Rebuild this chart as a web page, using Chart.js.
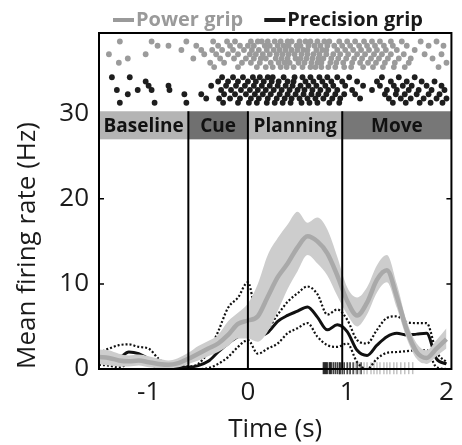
<!DOCTYPE html>
<html>
<head>
<meta charset="utf-8">
<script src="https://cdn.jsdelivr.net/npm/chart.js@4.4.1/dist/chart.umd.min.js"></script>
<style>
  html, body { margin: 0; padding: 0; background: #fff; }
  #chart { display: block; }
</style>
</head>
<body>
<canvas id="chart" width="462" height="445"></canvas>
<script>
// time base (s) for the firing-rate traces
const times = [-1.5, -1.4, -1.3, -1.2, -1.1, -1.0, -0.9, -0.8, -0.7, -0.6,
  -0.5, -0.4, -0.3, -0.2, -0.1, 0, 0.1, 0.2, 0.3, 0.4,
  0.5, 0.6, 0.7, 0.8, 0.9, 1.0, 1.1, 1.2, 1.3, 1.4,
  1.5, 1.6, 1.7, 1.8, 1.9, 2.0];

// power grip: mean and shaded band
const powerMean = [1.4, 1.3, 1.0, 0.9, 1.0, 0.8, 0.6, 0.5, 0.7, 1.2,
  1.8, 2.4, 3.0, 4.0, 5.3, 5.7, 6.2, 8.5, 10.8, 12.4,
  14.3, 15.6, 15.0, 13.6, 11.0, 8.0, 6.3, 7.8, 10.5, 11.6,
  8.5, 4.6, 2.0, 1.3, 2.4, 3.5];
const powerUpper = [2.3, 2.2, 1.8, 1.6, 1.7, 1.5, 1.2, 1.0, 1.3, 1.9,
  2.7, 3.3, 4.0, 5.6, 6.6, 7.7, 10.0, 13.4, 15.4, 17.0,
  18.5, 17.2, 17.8, 16.4, 13.2, 9.6, 8.4, 9.6, 12.2, 13.4,
  10.0, 5.6, 3.0, 2.2, 3.4, 4.8];
const powerLower = [0.6, 0.4, 0.3, 0.3, 0.4, 0.2, 0.1, 0.1, 0.2, 0.6,
  1.0, 1.5, 2.0, 2.7, 3.6, 3.6, 3.2, 4.4, 6.8, 9.4,
  11.5, 13.4, 12.4, 11.0, 8.6, 6.4, 5.0, 6.4, 9.0, 10.2,
  7.2, 3.6, 1.2, 0.6, 1.5, 2.4];

// precision grip: mean and dotted bounds
const precMean = [1.3, 1.2, 1.3, 2.0, 1.8, 1.2, 0.7, 0.3, 0.2, 0.2,
  0.4, 0.9, 2.0, 3.0, 3.8, 4.2, 3.9, 4.3, 5.6, 6.3,
  6.8, 7.3, 6.1, 4.6, 5.2, 4.4, 2.2, 1.6, 2.8, 3.8,
  4.2, 4.0, 4.1, 4.2, 1.2, 0.6];
const precUpper = [1.9, 2.4, 2.8, 2.9, 2.6, 2.4, 1.2, 0.4, 0.3, 0.3,
  0.6, 2.0, 4.4, 7.2, 8.4, 10.2, 5.4, 5.0, 6.4, 7.9,
  8.9, 9.7, 8.8, 6.4, 7.0, 5.8, 3.4, 3.0, 4.6, 6.0,
  6.2, 5.5, 5.4, 5.4, 2.0, 0.8];
const precLower = [0.5, 0.4, 0.2, 0.6, 0.8, 0.5, 0.2, 0.0, 0.0, 0.0,
  0.0, 0.1, 0.6, 1.4, 2.6, 3.4, 1.8, 2.4, 3.0, 4.2,
  4.8, 5.4, 3.8, 2.8, 2.6, 3.0, 0.8, 0.0, 1.2, 1.9,
  2.0, 2.1, 2.2, 2.2, 0.2, 0.0];

// spike rasters: one list of spike times per trial
const powerTrialY = [38.5, 38.0, 37.5, 37.0, 36.5, 36.0, 35.5];
const powerSpikes = [
  [-1.29, -0.97, -0.62, -0.35, -0.21, -0.13, 0.03, 0.1, 0.14, 0.2, 0.27, 0.33, 0.4, 0.44, 0.52, 0.58, 0.63, 0.7, 0.77, 0.82, 0.92, 1.0, 1.08, 1.17, 1.25, 1.33, 1.44, 1.55, 1.74, 1.9],
  [-0.91, -0.8, -0.52, -0.3, -0.18, -0.08, 0.0, 0.06, 0.17, 0.22, 0.3, 0.36, 0.41, 0.49, 0.53, 0.61, 0.67, 0.73, 0.8, 0.87, 0.95, 1.03, 1.12, 1.2, 1.28, 1.37, 1.46, 1.6, 1.82, 1.97],
  [-0.67, -0.47, -0.36, -0.26, -0.15, -0.04, 0.04, 0.11, 0.19, 0.26, 0.32, 0.38, 0.44, 0.5, 0.56, 0.6, 0.69, 0.75, 0.79, 0.9, 0.98, 1.06, 1.14, 1.22, 1.3, 1.39, 1.5, 1.68],
  [-1.4, -1.03, -0.44, -0.32, -0.2, -0.1, 0.02, 0.08, 0.15, 0.22, 0.29, 0.35, 0.41, 0.47, 0.54, 0.6, 0.66, 0.72, 0.79, 0.86, 0.93, 1.01, 1.1, 1.18, 1.27, 1.35, 1.44, 1.57, 1.78, 1.95],
  [-1.21, -0.55, -0.28, -0.14, -0.02, 0.06, 0.13, 0.18, 0.28, 0.34, 0.4, 0.48, 0.53, 0.59, 0.65, 0.71, 0.76, 0.84, 0.91, 0.99, 1.07, 1.15, 1.24, 1.32, 1.41, 1.52, 1.64, 1.86],
  [-1.3, -0.38, -0.24, -0.06, 0.03, 0.12, 0.23, 0.31, 0.37, 0.42, 0.51, 0.57, 0.64, 0.7, 0.74, 0.83, 0.89, 0.96, 1.05, 1.13, 1.21, 1.29, 1.38, 1.48, 1.62, 2.0],
  [-0.34, -0.1, 0.09, 0.18, 0.25, 0.33, 0.39, 0.46, 0.55, 0.63, 0.68, 0.74, 0.81, 0.88, 0.97, 1.04, 1.16, 1.26, 1.36, 1.47, 1.58, 1.92]
];
const precTrialY = [34.3, 33.8, 33.3, 32.8, 32.3, 31.8, 31.3];
const precSpikes = [
  [-1.37, -1.19, -0.26, -0.15, -0.05, 0.05, 0.12, 0.2, 0.25, 0.36, 0.47, 0.55, 0.63, 0.72, 0.8, 0.9, 1.02, 1.35, 1.52, 1.68],
  [-1.03, -0.3, -0.2, -0.1, 0.0, 0.08, 0.16, 0.24, 0.31, 0.4, 0.46, 0.58, 0.66, 0.75, 0.84, 0.95, 1.1, 1.3, 1.44, 1.6, 1.75, 1.88],
  [-1.0, -0.8, -0.37, -0.22, -0.12, -0.03, 0.06, 0.14, 0.22, 0.3, 0.38, 0.45, 0.53, 0.61, 0.69, 0.78, 0.86, 0.98, 1.16, 1.33, 1.47, 1.56, 1.65, 1.8, 1.95],
  [-1.32, -1.11, -0.97, -0.79, -0.27, -0.17, -0.07, 0.02, 0.1, 0.18, 0.26, 0.34, 0.42, 0.5, 0.57, 0.65, 0.73, 0.81, 0.9, 1.05, 1.25, 1.4, 1.5, 1.62, 1.72, 1.85, 1.98],
  [-1.21, -0.64, -0.47, -0.24, -0.13, -0.02, 0.07, 0.15, 0.23, 0.32, 0.4, 0.48, 0.56, 0.64, 0.71, 0.79, 0.88, 0.97, 1.08, 1.38, 1.49, 1.58, 1.7, 1.82, 1.93],
  [-0.42, -0.29, -0.18, -0.08, 0.03, 0.11, 0.2, 0.29, 0.37, 0.44, 0.52, 0.6, 0.68, 0.76, 0.85, 0.93, 1.13, 1.42, 1.54, 1.64, 1.77, 1.9, 2.0],
  [-1.29, -0.94, -0.62, -0.25, -0.1, 0.01, 0.09, 0.19, 0.27, 0.35, 0.43, 0.54, 0.62, 0.7, 0.82, 0.92, 1.46, 1.59, 1.73, 1.84, 1.96]
];

// movement onset times (tick marks on the time axis)
const onsetsPrecision = [0.76, 0.77, 0.78, 0.79, 0.8, 0.82, 0.83, 0.84, 0.86, 0.88, 0.9, 0.92, 0.93, 0.95, 0.97, 1.0, 1.03, 1.06, 1.1, 1.14];
const onsetsPower = [1.02, 1.08, 1.12, 1.17, 1.2, 1.24, 1.27, 1.3, 1.33, 1.37, 1.4, 1.43, 1.47, 1.5, 1.54, 1.58, 1.62, 1.66];

// task phases
const phaseNames = ["Baseline", "Cue", "Planning", "Move"];
const phaseEdges = [-1.5, -0.6, 0, 0.95, 2.05];
const phaseColors = ["#b4b4b4", "#707070", "#b9b9b9", "#777777"];

const xTicks = [-1, 0, 1, 2];
const yTicks = [0, 10, 20, 30];
const legendLabels = ["Power grip", "Precision grip"];
const legendColors = ["#9a9a9a", "#1a1a1a"];

const toPoints = (values) => values.map((v, i) => ({ x: times[i], y: v }));
const rasterPoints = (rows, ys) => {
  const pts = [];
  rows.forEach((row, i) => row.forEach((t) => pts.push({ x: t, y: ys[i] })));
  return pts;
};

Chart.defaults.font.family = "'Open Sans', sans-serif";
Chart.defaults.color = "#1a1a1a";

const phasePlugin = {
  id: "phases",
  afterDatasetsDraw(chart) {
    const { ctx, chartArea, scales: { x, y } } = chart;
    const top = y.getPixelForValue(30.3);
    const bottom = y.getPixelForValue(27);
    ctx.save();
    ctx.font = "bold 19px 'Open Sans'";
    ctx.textAlign = "center";
    ctx.textBaseline = "middle";
    for (let i = 0; i < phaseNames.length; i++) {
      const left = x.getPixelForValue(phaseEdges[i]);
      const right = x.getPixelForValue(phaseEdges[i + 1]);
      ctx.fillStyle = phaseColors[i];
      ctx.fillRect(left, top, right - left, bottom - top);
      ctx.fillStyle = "#111";
      ctx.fillText(phaseNames[i], (left + right) / 2, (top + bottom) / 2 + 1);
    }
    // event lines
    ctx.strokeStyle = "#000";
    ctx.lineWidth = 2;
    const y0 = y.getPixelForValue(0);
    for (const t of phaseEdges.slice(1, -1)) {
      const px = x.getPixelForValue(t);
      ctx.beginPath();
      ctx.moveTo(px, top);
      ctx.lineTo(px, y0);
      ctx.stroke();
    }
    // frame and small inward ticks
    ctx.strokeRect(chartArea.left, chartArea.top, chartArea.right - chartArea.left, chartArea.bottom - chartArea.top);
    ctx.lineWidth = 1.5;
    for (const v of [10, 20]) {
      const py = y.getPixelForValue(v);
      ctx.beginPath();
      ctx.moveTo(chartArea.left, py);
      ctx.lineTo(chartArea.left + 5, py);
      ctx.moveTo(chartArea.right, py);
      ctx.lineTo(chartArea.right - 5, py);
      ctx.stroke();
    }
    ctx.restore();
  },
};

const legendPlugin = {
  id: "gripLegend",
  afterDraw(chart) {
    const ctx = chart.ctx;
    ctx.save();
    ctx.font = "bold 20px 'Open Sans'";
    ctx.textBaseline = "middle";
    const dash = 21, gap = 2, between = 21;
    const widths = legendLabels.map((l) => ctx.measureText(l).width);
    let total = between * (legendLabels.length - 1);
    widths.forEach((w) => (total += dash + gap + w));
    let x = 268 - total / 2;
    const y = 20;
    legendLabels.forEach((label, i) => {
      ctx.strokeStyle = legendColors[i];
      ctx.lineWidth = 4;
      ctx.beginPath();
      ctx.moveTo(x, y);
      ctx.lineTo(x + dash, y);
      ctx.stroke();
      ctx.fillStyle = legendColors[i];
      ctx.fillText(label, x + dash + gap, y);
      x += dash + gap + widths[i] + between;
    });
    ctx.restore();
  },
};

const lineBase = { pointRadius: 0, cubicInterpolationMode: "monotone", fill: false };

new Chart(document.getElementById("chart"), {
  type: "line",
  data: {
    datasets: [
      { ...lineBase, label: "Power grip", data: toPoints(powerMean), borderColor: "#a9a9a9", borderWidth: 4.5 },
      { ...lineBase, label: "power upper", data: toPoints(powerUpper), borderWidth: 0, borderColor: "rgba(0,0,0,0)", backgroundColor: "#cdcdcd", fill: "+1" },
      { ...lineBase, label: "power lower", data: toPoints(powerLower), borderWidth: 0, borderColor: "rgba(0,0,0,0)" },
      { ...lineBase, label: "Precision grip", data: toPoints(precMean), borderColor: "#111", borderWidth: 3 },
      { ...lineBase, label: "precision upper", data: toPoints(precUpper), borderColor: "#111", borderWidth: 2.2, borderDash: [2, 2] },
      { ...lineBase, label: "precision lower", data: toPoints(precLower), borderColor: "#111", borderWidth: 2.2, borderDash: [2, 2] },
      { label: "power raster", data: rasterPoints(powerSpikes, powerTrialY), showLine: false, pointRadius: 2.9, pointBorderWidth: 0, pointBackgroundColor: "#9b9b9b" },
      { label: "precision raster", data: rasterPoints(precSpikes, precTrialY), showLine: false, pointRadius: 2.9, pointBorderWidth: 0, pointBackgroundColor: "#1e1e1e" },
      { label: "onset precision", data: onsetsPrecision.map((t) => ({ x: t, y: 0.1 })), showLine: false, clip: false, pointStyle: "line", rotation: 90, pointRadius: 6, pointBorderWidth: 1.5, pointBorderColor: "rgba(0,0,0,0.75)" },
      { label: "onset power", data: onsetsPower.map((t) => ({ x: t, y: 0.1 })), showLine: false, clip: false, pointStyle: "line", rotation: 90, pointRadius: 6, pointBorderWidth: 1.5, pointBorderColor: "rgba(120,120,120,0.45)" },
    ],
  },
  options: {
    responsive: false,
    animation: false,
    devicePixelRatio: 1,
    events: [],
    layout: { padding: { top: 33, right: 1, left: 0, bottom: 0 } },
    plugins: { legend: { display: false }, tooltip: { enabled: false } },
    scales: {
      x: {
        type: "linear",
        min: -1.5,
        max: 2.05,
        grid: { display: false, drawTicks: false },
        border: { display: false },
        afterBuildTicks: (s) => { s.ticks = xTicks.map((v) => ({ value: v })); },
        afterFit: (s) => { s.height = 76; },
        ticks: { font: { size: 26 }, padding: 8, maxRotation: 0 },
        title: { display: true, text: "Time (s)", font: { size: 26 }, padding: 0 },
      },
      y: {
        min: 0,
        max: 39.5,
        grid: { display: false, drawTicks: false },
        border: { display: false },
        afterBuildTicks: (s) => { s.ticks = yTicks.map((v) => ({ value: v })); },
        afterFit: (s) => { s.width = 99; },
        ticks: { font: { size: 26 }, padding: 10 },
        title: { display: true, text: "Mean firing rate (Hz)", align: "start", font: { size: 26 }, padding: { top: 12 } },
      },
    },
  },
  plugins: [phasePlugin, legendPlugin],
});
</script>
</body>
</html>
